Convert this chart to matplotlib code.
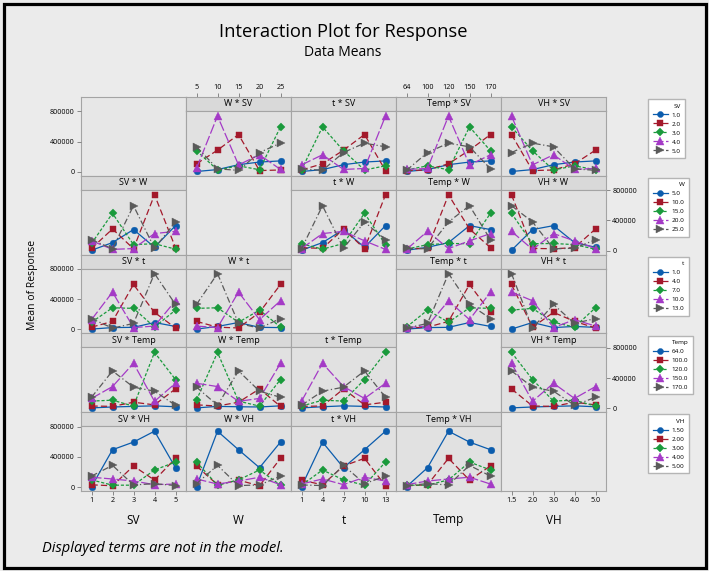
import pandas as pd
import matplotlib
matplotlib.use('Agg')
import matplotlib.pyplot as plt
from matplotlib.lines import Line2D
from matplotlib.patches import Rectangle

plt.rcParams['font.family'] = ['Open Sans', 'DejaVu Sans']

# Diseño L25: nivel de cada factor y respuesta de cada corrida
SV = [1, 1, 1, 1, 1, 2, 2, 2, 2, 2, 3, 3, 3, 3, 3, 4, 4, 4, 4, 4, 5, 5, 5, 5, 5]
W = [5, 10, 15, 20, 25, 5, 10, 15, 20, 25, 5, 10, 15, 20, 25,
     5, 10, 15, 20, 25, 5, 10, 15, 20, 25]
t = [1, 4, 7, 10, 13, 4, 7, 10, 13, 1, 7, 10, 13, 1, 4,
     10, 13, 1, 4, 7, 13, 1, 4, 7, 10]
Temp = [64, 100, 120, 150, 170, 120, 150, 170, 64, 100, 170, 64, 100, 120, 150,
        100, 120, 150, 170, 64, 150, 170, 64, 100, 120]
VH = [1.5, 2.0, 3.0, 4.0, 5.0, 4.0, 5.0, 1.5, 2.0, 3.0, 2.0, 3.0, 4.0, 5.0, 1.5,
      5.0, 1.5, 2.0, 3.0, 4.0, 3.0, 4.0, 5.0, 1.5, 2.0]
Response = [5000, 30000, 95000, 130000, 145000,
            107000, 287000, 494000, 17000, 25000,
            279000, 25000, 80000, 28000, 595000,
            45000, 739000, 92000, 226000, 32000,
            331000, 40000, 20000, 256000, 380000]

factores = ['SV', 'W', 't', 'Temp', 'VH']
niveles = {'SV': [1, 2, 3, 4, 5], 'W': [5, 10, 15, 20, 25], 't': [1, 4, 7, 10, 13],
           'Temp': [64, 100, 120, 150, 170], 'VH': [1.5, 2.0, 3.0, 4.0, 5.0]}
etiquetas_x = {'SV': ['1', '2', '3', '4', '5'], 'W': ['5', '10', '15', '20', '25'],
               't': ['1', '4', '7', '10', '13'], 'Temp': ['64', '100', '120', '150', '170'],
               'VH': ['1.5', '2.0', '3.0', '4.0', '5.0']}
etiquetas_leyenda = {'SV': ['1.0', '2.0', '3.0', '4.0', '5.0'],
                     'W': ['5.0', '10.0', '15.0', '20.0', '25.0'],
                     't': ['1.0', '4.0', '7.0', '10.0', '13.0'],
                     'Temp': ['64.0', '100.0', '120.0', '150.0', '170.0'],
                     'VH': ['1.50', '2.00', '3.00', '4.00', '5.00']}

df = pd.DataFrame({'SV': SV, 'W': W, 't': t, 'Temp': Temp, 'VH': VH, 'Response': Response})

# Estilos de las series (tipo Minitab)
estilos = [
    dict(color='#0b5cad', marker='o', linestyle='-', markersize=4.8),
    dict(color='#a3192b', marker='s', linestyle=(0, (5, 2.5)), markersize=4.5),
    dict(color='#1a9a3c', marker='D', linestyle=(0, (2.5, 1.5)), markersize=4.3),
    dict(color='#a43ac6', marker='^', linestyle=(0, (8, 2)), markersize=6.0),
    dict(color='#5a5a5a', marker='>', linestyle=(0, (5, 2, 1, 2)), markersize=6.0),
]

W_PX, H_PX = 709, 571


def caja(x0, y0, x1, y1):
    return [x0 / W_PX, 1 - y1 / H_PX, (x1 - x0) / W_PX, (y1 - y0) / H_PX]


fig = plt.figure(figsize=(W_PX / 100, H_PX / 100), dpi=100)
fig.patch.set_facecolor('#ebebeb')

borde = '#a4a4a4'
fs_ticks = 5.2
ancho, alto, franja = 105, 78.8, 14
ylim = (-52000, 805000)

for r in range(5):
    for c in range(5):
        x0 = 81 + ancho * c
        x1 = x0 + ancho
        y0 = 97 + alto * r
        y1 = y0 + alto
        if r == c:
            fondo = fig.add_axes(caja(x0, y0, x1, y1))
            fondo.set_facecolor('#e7e7e7')
            fondo.set_xticks([])
            fondo.set_yticks([])
            for s in fondo.spines.values():
                s.set_color(borde)
                s.set_linewidth(0.8)
            ax = fig.add_axes(caja(x0, y0 + franja, x1, y1))
            ax.set_facecolor('none')
            for s in ax.spines.values():
                s.set_visible(False)
        else:
            tira = fig.add_axes(caja(x0, y0, x1, y0 + franja))
            tira.set_facecolor('#d9d9d9')
            tira.set_xticks([])
            tira.set_yticks([])
            for s in tira.spines.values():
                s.set_color(borde)
                s.set_linewidth(0.8)
            tira.text(0.5, 0.5, f'{factores[c]} * {factores[r]}', ha='center', va='center',
                      fontsize=6.5, transform=tira.transAxes)
            if r == 0 and c in (1, 3):
                tira.set_xlim(-0.5, 4.5)
                tira.xaxis.tick_top()
                tira.set_xticks(range(5))
                tira.set_xticklabels(etiquetas_x[factores[c]], fontsize=fs_ticks)
                tira.tick_params(axis='x', length=3, width=0.6, color='#777777', pad=1.5)

            ax = fig.add_axes(caja(x0, y0 + franja, x1, y1))
            ax.set_facecolor('#e1e1e1')
            for s in ax.spines.values():
                s.set_color(borde)
                s.set_linewidth(0.8)
            xf, lf = factores[c], factores[r]
            medias = df.groupby([lf, xf])['Response'].mean().unstack(xf)
            for k, nivel in enumerate(niveles[lf]):
                ax.plot(range(5), medias.loc[nivel, niveles[xf]].values, linewidth=0.9,
                        markeredgewidth=0.3, markeredgecolor=estilos[k]['color'], **estilos[k])

        ax.set_xlim(-0.5, 4.5)
        ax.set_ylim(*ylim)
        ax.set_xticks([])
        ax.set_yticks([])

        if r == 4 and c in (0, 2, 4):
            ax.set_xticks(range(5))
            ax.set_xticklabels(etiquetas_x[factores[c]], fontsize=fs_ticks)
            ax.tick_params(axis='x', length=3, width=0.6, color='#777777', pad=1.5)
        if c == 0 and r in (0, 2, 4):
            ax.set_yticks([0, 400000, 800000])
            ax.set_yticklabels(['0', '400000', '800000'], fontsize=fs_ticks)
            ax.tick_params(axis='y', length=3, width=0.6, color='#777777', pad=1.5)
        if c == 4 and r in (1, 3):
            ax.yaxis.tick_right()
            ax.set_yticks([0, 400000, 800000])
            ax.set_yticklabels(['0', '400000', '800000'], fontsize=fs_ticks)
            ax.tick_params(axis='y', length=3, width=0.6, color='#777777', pad=1.5)

    # Leyenda de la fila
    manejadores = [Line2D([], [], linewidth=0.9, markeredgewidth=0.3, **e) for e in estilos]
    fig.legend(manejadores, etiquetas_leyenda[factores[r]], title=factores[r],
               loc='upper left', bbox_to_anchor=(645 / W_PX, 1 - (96 + alto * r) / H_PX),
               fontsize=4.6, title_fontsize=4.6, frameon=True, fancybox=False,
               edgecolor='#b5b5b5', facecolor='white', framealpha=1, markerscale=0.9,
               handlelength=2.4, handletextpad=0.6, labelspacing=0.55,
               borderpad=0.7, alignment='right')

# Etiquetas de los ejes
for c, f in enumerate(factores):
    fig.text((81 + ancho * c + ancho / 2) / W_PX, 1 - 520 / H_PX, f, ha='center', va='center',
             fontsize=8.5)
fig.text(33 / W_PX, 1 - 285 / H_PX, 'Mean of Response', rotation=90, ha='center', va='center',
         fontsize=7.5)

fig.text(343.5 / W_PX, 1 - 32 / H_PX, 'Interaction Plot for Response', ha='center',
         va='center', fontsize=13.2)
fig.text(343 / W_PX, 1 - 53 / H_PX, 'Data Means', ha='center', va='center', fontsize=10)
fig.text(42 / W_PX, 1 - 548 / H_PX, 'Displayed terms are not in the model.', ha='left',
         va='center', fontsize=10.5, style='italic')

# Marco negro exterior
fig.add_artist(Rectangle((3.5 / W_PX, 3.5 / H_PX), 702 / W_PX, 564 / H_PX,
                         transform=fig.transFigure, fill=False, edgecolor='black',
                         linewidth=2.3))

fig.savefig('out.png', dpi=100, facecolor=fig.get_facecolor())
